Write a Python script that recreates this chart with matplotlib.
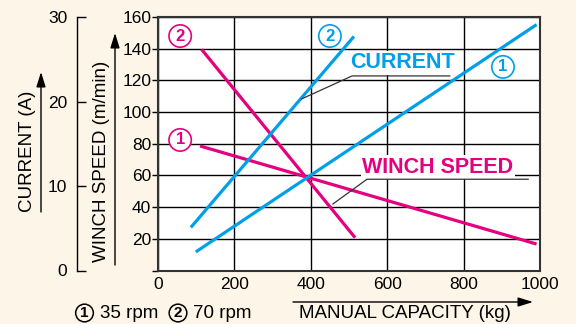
import matplotlib
matplotlib.use("Agg")
import matplotlib.pyplot as plt

plt.rcParams['font.family'] = ['Liberation Sans', 'DejaVu Sans']

# ---- data ----
x_ticks = [0, 200, 400, 600, 800, 1000]
speed_ticks = [20, 40, 60, 80, 100, 120, 140, 160]
current_ticks = [0, 10, 20, 30]

# current (A) vs capacity (kg)
cur1_x = [99, 991]
cur1_y = [2.2, 29.1]      # 35 rpm
cur2_x = [86, 513]
cur2_y = [5.1, 27.7]      # 70 rpm
# winch speed (m/min) vs capacity (kg)
spd1_x = [110, 991]
spd1_y = [78.6, 16.7]     # 35 rpm
spd2_x = [114, 516]
spd2_y = [139.6, 20.7]    # 70 rpm

BLUE = '#00a0e9'
MAG = '#e4007f'
BG = '#fcf5e8'

fig = plt.figure(figsize=(5.76, 3.24), dpi=100, facecolor=BG)
W, H = 576, 324
L, R, T, B = 158, 540, 17, 270.5
ax = fig.add_axes([L / W, 1 - B / H, (R - L) / W, (B - T) / H])
ax.set_facecolor('white')
ax.set_xlim(0, 1000)
ax.set_ylim(0, 160)
ax.set_xticks(x_ticks)
ax.set_yticks([0] + speed_ticks)
ax.set_yticklabels([''] + [str(v) for v in speed_ticks])
ax.grid(True, color='black', lw=1.0)
ax.set_axisbelow(True)
for s in ax.spines.values():
    s.set_color('#333333')
    s.set_linewidth(1.5)
ax.tick_params(axis='x', length=0, pad=5, labelsize=12.5)
ax.tick_params(axis='y', length=4.3, width=1.0, pad=0.5, labelsize=12.5)

# current axis as twin
ax2 = ax.twinx()
ax2.set_ylim(0, 30)
ax2.yaxis.set_ticks_position('left')
ax2.yaxis.set_label_position('left')
ax2.spines['left'].set_visible(True)
ax2.spines['left'].set_position(('outward', 81 * 0.72))
ax2.spines['left'].set_linewidth(1.0)
for k in ('right', 'top', 'bottom'):
    ax2.spines[k].set_visible(False)
ax2.set_yticks(current_ticks)
ax2.tick_params(axis='y', direction='in', length=6.5, width=1.0, pad=7.0, labelsize=12.5)
ax2.patch.set_visible(False)

# lines
ax2.plot(cur1_x, cur1_y, color=BLUE, lw=2.3, solid_capstyle='butt', zorder=3)
ax2.plot(cur2_x, cur2_y, color=BLUE, lw=2.3, solid_capstyle='butt', zorder=3)
ax.plot(spd1_x, spd1_y, color=MAG, lw=2.3, solid_capstyle='butt', zorder=3)
ax.plot(spd2_x, spd2_y, color=MAG, lw=2.3, solid_capstyle='butt', zorder=3)

# circled numbers
def circ(x, y, n, c):
    ax2.text(x, y * 30 / 160, n, color=c, fontsize=12, fontweight='bold', ha='center', va='center',
             bbox=dict(boxstyle='circle,pad=0.22', fc='white', ec=c, lw=1.2), zorder=5)

circ(58, 148, '2', MAG)
circ(450, 148, '2', BLUE)
circ(903, 128.5, '1', BLUE)
circ(58, 82.4, '1', MAG)

# callouts
ax2.text(641, 131 * 30 / 160, 'CURRENT', color=BLUE, fontsize=15.5, fontweight='bold',
         ha='center', va='center', zorder=4,
         bbox=dict(boxstyle='square,pad=0.05', fc='white', ec='none'))
ax2.plot([764, 508, 376], [122.8 * 30 / 160, 122.8 * 30 / 160, 108.3 * 30 / 160],
         color='#333333', lw=0.9, zorder=4)
ax2.text(733, 65.3 * 30 / 160, 'WINCH SPEED', color=MAG, fontsize=15.5, fontweight='bold',
         ha='center', va='center', zorder=4,
         bbox=dict(boxstyle='square,pad=0.05', fc='white', ec='none'))
ax2.plot([969, 547, 458], [57.6 * 30 / 160, 57.6 * 30 / 160, 42 * 30 / 160],
         color='#333333', lw=0.9, zorder=4)

# axis labels with arrows (figure pixel coords)
def fp(x, y):
    return (x, H - y)

fig.text(27 / W, 1 - 151 / H, 'CURRENT (A)', rotation=90, ha='center', va='center', fontsize=13.5)
fig.text(101 / W, 1 - 161 / H, 'WINCH SPEED (m/min)', rotation=90, ha='center', va='center', fontsize=13.5)
fig.text(405 / W, 1 - 313 / H, 'MANUAL CAPACITY (kg)', ha='center', va='center', fontsize=13.5)

arrow = dict(arrowstyle='-|>,head_length=0.9,head_width=0.28', color='black', lw=1.0, shrinkA=0, shrinkB=0)
ax.annotate('', xy=fp(41, 72), xytext=fp(41, 212), xycoords='figure pixels', textcoords='figure pixels',
            arrowprops=arrow, annotation_clip=False)
ax.annotate('', xy=fp(115, 33), xytext=fp(115, 265), xycoords='figure pixels', textcoords='figure pixels',
            arrowprops=arrow, annotation_clip=False)
ax.annotate('', xy=fp(533, 302), xytext=fp(293, 302), xycoords='figure pixels', textcoords='figure pixels',
            arrowprops=arrow, annotation_clip=False)

# rpm legend
def legend_circ(xc, n):
    fig.text(xc / W, 1 - 313 / H, n, ha='center', va='center', fontsize=11, fontweight='bold',
             bbox=dict(boxstyle='circle,pad=0.12', fc='none', ec='black', lw=1.1))

legend_circ(84.5, '1')
fig.text(100 / W, 1 - 313 / H, '35 rpm', ha='left', va='center', fontsize=13.5)
legend_circ(178, '2')
fig.text(193 / W, 1 - 313 / H, '70 rpm', ha='left', va='center', fontsize=13.5)

fig.savefig('out.png', dpi=100, facecolor=BG)
